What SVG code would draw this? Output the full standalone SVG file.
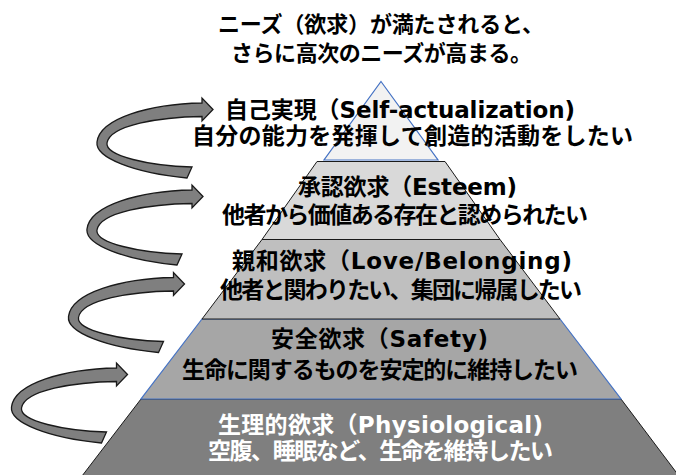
<svg xmlns="http://www.w3.org/2000/svg" xmlns:xlink="http://www.w3.org/1999/xlink" width="676" height="475" viewBox="0 0 676 475">
<style>
.t{font-family:"DejaVu Sans","Noto Sans CJK JP",sans-serif;font-weight:bold;font-size:23px;fill:#000}
.ti{font-size:22px}
.w{fill:#fff}
.blue{stroke:#4472c4;stroke-width:1.2}
.blk{stroke:#1a1a1a;stroke-width:1}
.arr{fill:#7f7f7f;stroke:#1a1a1a;stroke-width:1.3;stroke-linejoin:miter}
</style>
<defs>
<path id="arrow" d="M213,109.5 L202,98 L202,103 C150,104 100,118 97,142 C95,158 135,173 187,178 L192,167 C150,166 105,156 107,143 C110,125 160,117 202,116.5 L202,121 Z"/>
</defs>
<rect width="676" height="475" fill="#fff"/>
<g id="title">
<text class="t ti" x="218" y="32" textLength="326">ニーズ（欲求）が満たされると、</text>
<text class="t ti" x="231" y="61" textLength="301">さらに高次のニーズが高まる。</text>
</g>
<g id="connectors">
<use href="#arrow" class="arr"/>
<use href="#arrow" class="arr" transform="translate(-10,87)"/>
<use href="#arrow" class="arr" transform="translate(-28.5,174.5)"/>
<use href="#arrow" class="arr" transform="translate(-85.5,265)"/>
</g>
<g id="physiological">
<polygon class="blk" points="141,399 621,399 679,476 82,476" fill="#7f7f7f"/>
<text class="t w" x="218" y="433" textLength="325">生理的欲求（Physiological)</text>
<text class="t w" x="208" y="459" textLength="345">空腹、睡眠など、生命を維持したい</text>
</g>
<g id="safety">
<polygon class="blue" points="202,319 560,319 621,399 141,399" fill="#a6a6a6"/>
<text class="t" x="271" y="347" textLength="217">安全欲求（Safety)</text>
<text class="t" x="182" y="378" textLength="396">生命に関するものを安定的に維持したい</text>
</g>
<g id="love">
<polygon class="blk" points="262,239.5 500,239.5 560,319 202,319" fill="#bfbfbf"/>
<text class="t" x="232" y="269" textLength="340">親和欲求（Love/Belonging)</text>
<text class="t" x="220" y="298" textLength="362">他者と関わりたい、集団に帰属したい</text>
</g>
<g id="esteem">
<polygon class="blk" points="317,161.5 445,161.5 500,239.5 262,239.5" fill="#d9d9d9"/>
<text class="t" x="298" y="195" textLength="219">承認欲求（Esteem)</text>
<text class="t" x="222" y="223" textLength="366">他者から価値ある存在と認められたい</text>
</g>
<g id="self-actualization">
<polygon class="blue" points="381,81.5 438,160 324,160" fill="#f2f2f2"/>
<text class="t" x="225" y="118" textLength="350">自己実現（Self-actualization)</text>
<text class="t" x="192" y="144" textLength="441">自分の能力を発揮して創造的活動をしたい</text>
</g>
</svg>
